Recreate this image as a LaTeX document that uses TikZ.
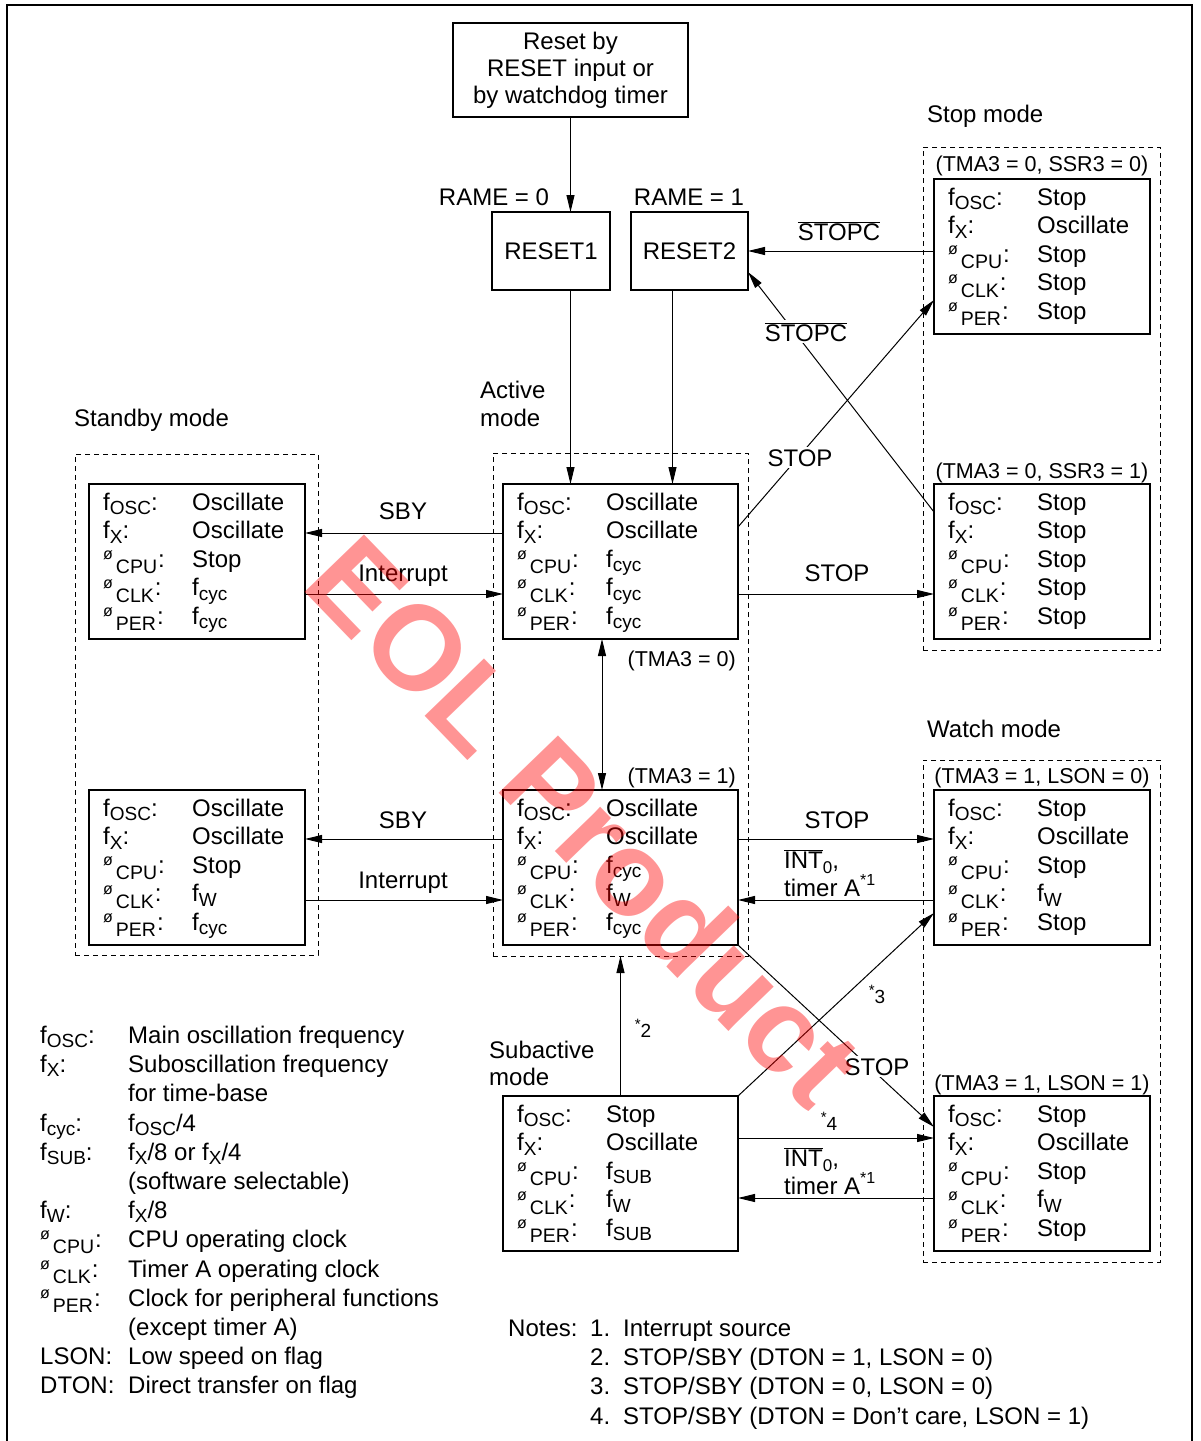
\documentclass[tikz,border=0pt]{standalone}
\usepackage{fontspec}
\setmainfont{Liberation Sans}
\usetikzlibrary{arrows.meta,calc}

% clock and signal notation
\newcommand{\fs}[1]{f\raisebox{-0.2em}{\fontsize{19}{19}\selectfont #1}}
\newcommand{\ph}[1]{\raisebox{0.3em}{\fontsize{16}{16}\selectfont ø}\hspace{3pt}\raisebox{-0.28em}{\fontsize{19.5}{19.5}\selectfont #1}\hspace{1pt}:}
\newcommand{\ovl}[1]{$\overline{\hbox{#1}}$}
\newcommand{\noteref}[1]{\raisebox{0.32em}{\fontsize{15}{15}\selectfont *}{\fontsize{19}{19}\selectfont #1}}
\newcommand{\intz}{\ovl{INT}\raisebox{-0.22em}{\fontsize{17}{17}\selectfont 0},}
\newcommand{\tmrA}{timer A\raisebox{0.45em}{\fontsize{16}{16}\selectfont *1}}

% five clock rows inside a mode box
\newcommand{\modeRows}[6]{%
  \node[cell] (#1a1) at ([xshift=14pt,yshift=-26pt]#1.north west) {\fs{OSC}:};
  \node[cell] (#1b1) at ([xshift=103pt,yshift=-26pt]#1.north west) {#2};
  \node[cell] (#1a2) at ([xshift=14pt,yshift=-54.5pt]#1.north west) {\fs{X}:};
  \node[cell] (#1b2) at ([xshift=103pt,yshift=-54.5pt]#1.north west) {#3};
  \node[cell] (#1a3) at ([xshift=14pt,yshift=-83pt]#1.north west) {\ph{CPU}};
  \node[cell] (#1b3) at ([xshift=103pt,yshift=-83pt]#1.north west) {#4};
  \node[cell] (#1a4) at ([xshift=14pt,yshift=-111.5pt]#1.north west) {\ph{CLK}};
  \node[cell] (#1b4) at ([xshift=103pt,yshift=-111.5pt]#1.north west) {#5};
  \node[cell] (#1a5) at ([xshift=14pt,yshift=-140pt]#1.north west) {\ph{PER}};
  \node[cell] (#1b5) at ([xshift=103pt,yshift=-140pt]#1.north west) {#6};
}

\tikzset{
  txt/.style={font=\fontsize{24}{27}\selectfont},
  mbox/.style={draw, line width=1.4pt, anchor=north west, inner sep=0pt, outer sep=0pt, txt},
  dbox/.style={draw, line width=0.9pt, dash pattern=on 5pt off 4pt, anchor=north west, inner sep=0pt, outer sep=0pt},
  cell/.style={anchor=base west, inner sep=0pt, txt},
  lbl/.style={inner sep=0pt, txt},
  cond/.style={inner sep=0pt, font=\fontsize{21.5}{26}\selectfont},
  wlbl/.style={inner sep=2pt, fill=white, txt},
  arr/.style={line width=1pt, -{Triangle[length=17pt,width=8pt]}},
  darr/.style={line width=1pt, {Triangle[length=17pt,width=8pt]}-{Triangle[length=17pt,width=8pt]}},
  wm/.style={inner sep=0pt, text=red, text opacity=0.42, font=\fontsize{120}{120}\selectfont\bfseries},
}

\begin{document}
\begin{tikzpicture}[x=1pt,y=-1pt]
\useasboundingbox (0,0) rectangle (1200,1441);
\fill[white] (0,0) rectangle (1200,1441);

% outer frame
\draw[line width=1.5pt] (7,1441) -- (7,5) -- (1192,5) -- (1192,1441);

% mode groups
\node[dbox, minimum width=243pt, minimum height=501pt] (sbd) at (75,454) {};
\node[dbox, minimum width=255pt, minimum height=503pt] (actd) at (493,453) {};
\node[dbox, minimum width=237pt, minimum height=503pt] (std) at (923,147) {};
\node[dbox, minimum width=237pt, minimum height=502pt] (wd) at (923,760) {};

% reset boxes
\node[mbox, minimum width=235pt, minimum height=94pt, align=center] (reset) at (453,23) {Reset by\\RESET input or\\by watchdog timer};
\node[mbox, minimum width=118pt, minimum height=78pt] (r1) at (492,212) {RESET1};
\node[mbox, minimum width=117pt, minimum height=78pt] (r2) at (631,212) {RESET2};

% mode boxes
\node[mbox, minimum width=235pt, minimum height=155pt] (act0) at (503,484) {};
\node[mbox, minimum width=235pt, minimum height=155pt] (act1) at (503,790) {};
\node[mbox, minimum width=235pt, minimum height=155pt] (sub) at (503,1096) {};
\node[mbox, minimum width=216pt, minimum height=155pt] (sb0) at (89,484) {};
\node[mbox, minimum width=216pt, minimum height=155pt] (sb1) at (89,790) {};
\node[mbox, minimum width=216pt, minimum height=155pt] (st0) at (934,179) {};
\node[mbox, minimum width=216pt, minimum height=155pt] (st1) at (934,484) {};
\node[mbox, minimum width=216pt, minimum height=155pt] (w0) at (934,790) {};
\node[mbox, minimum width=216pt, minimum height=155pt] (w1) at (934,1096) {};

\modeRows{act0}{Oscillate}{Oscillate}{\fs{cyc}}{\fs{cyc}}{\fs{cyc}}
\modeRows{act1}{Oscillate}{Oscillate}{\fs{cyc}}{\fs{W}}{\fs{cyc}}
\modeRows{sub}{Stop}{Oscillate}{\fs{SUB}}{\fs{W}}{\fs{SUB}}
\modeRows{sb0}{Oscillate}{Oscillate}{Stop}{\fs{cyc}}{\fs{cyc}}
\modeRows{sb1}{Oscillate}{Oscillate}{Stop}{\fs{W}}{\fs{cyc}}
\modeRows{st0}{Stop}{Oscillate}{Stop}{Stop}{Stop}
\modeRows{st1}{Stop}{Stop}{Stop}{Stop}{Stop}
\modeRows{w0}{Stop}{Oscillate}{Stop}{\fs{W}}{Stop}
\modeRows{w1}{Stop}{Oscillate}{Stop}{\fs{W}}{Stop}

% group titles and conditions
\node[lbl, anchor=base west] (tstop) at (927,122) {Stop mode};
\node[lbl, anchor=base west] (twatch) at (927,737) {Watch mode};
\node[lbl, anchor=base west] (tsby) at (74,426) {Standby mode};
\node[lbl, anchor=base west] (tact1) at (480,398) {Active};
\node[lbl, anchor=base west] (tact2) at (480,426) {mode};
\node[lbl, anchor=base west] (tsub1) at (489,1058) {Subactive};
\node[lbl, anchor=base west] (tsub2) at (489,1085) {mode};
\node[lbl, anchor=base] (rame0) at (494,205) {RAME = 0};
\node[lbl, anchor=base] (rame1) at (689,205) {RAME = 1};
\node[cond, anchor=base] (cst0) at (1042,171) {(TMA3 = 0, SSR3 = 0)};
\node[cond, anchor=base] (cst1) at (1042,478) {(TMA3 = 0, SSR3 = 1)};
\node[cond, anchor=base] (cw0) at (1042,783) {(TMA3 = 1, LSON = 0)};
\node[cond, anchor=base] (cw1) at (1042,1090) {(TMA3 = 1, LSON = 1)};
\node[cond, anchor=base east] (cact0) at (736,666) {(TMA3 = 0)};
\node[cond, anchor=base east] (cact1) at (736,783) {(TMA3 = 1)};

% transitions
\draw[arr] (reset.south) -- (reset.south |- r1.north);
\draw[arr] (r1.south -| reset.south) -- (act0.north -| reset.south);
\draw[arr] ([xshift=-17pt]r2.south) -- ([xshift=-17pt]r2.south |- act0.north);
\draw[arr] (r2.east -| st0.west) -- (r2.east);
\draw[arr] ([yshift=-28pt]st1.north west) -- ([yshift=18pt]r2.south east);
\draw[arr] ([yshift=-43pt]act0.north east) -- ([yshift=34pt]st0.south west);
\draw[arr] ([yshift=-110pt]act0.north east) -- ([yshift=-110pt]st1.north west);
\draw[arr] ([yshift=-49pt]act0.north west) -- ([yshift=-49pt]sb0.north east);
\draw[arr] ([yshift=-110pt]sb0.north east) -- ([yshift=-110pt]act0.north west);
\draw[arr] ([yshift=-49pt]act1.north west) -- ([yshift=-49pt]sb1.north east);
\draw[arr] ([yshift=-110pt]sb1.north east) -- ([yshift=-110pt]act1.north west);
\draw[arr] ([yshift=-49pt]act1.north east) -- ([yshift=-49pt]w0.north west);
\draw[arr] ([yshift=-110pt]w0.north west) -- ([yshift=-110pt]act1.north east);
\draw[arr] (act1.south east) -- ([yshift=-31pt]w1.north west);
\draw[arr] (sub.north east) -- ([yshift=32pt]w0.south west);
\draw[arr] ([yshift=-42pt]sub.north east) -- ([yshift=-42pt]w1.north west);
\draw[arr] ([yshift=-102pt]w1.north west) -- ([yshift=-102pt]sub.north east);
\draw[arr] (sub.north) -- (sub.north |- actd.south);
\draw[darr] ([xshift=99pt]act0.south west) -- ([xshift=99pt]act1.north west);

% transition labels
\node[lbl, anchor=base] (lstopc1) at (839,240) {\ovl{STOPC}};
\node[wlbl, anchor=base] (lstopc2) at (806,341) {\ovl{STOPC}};
\node[wlbl, anchor=base] (lstop1) at (800,466) {STOP};
\node[lbl, anchor=base] (lsby1) at (403,519) {SBY};
\node[lbl, anchor=base] (lint1) at (403,581) {Interrupt};
\node[lbl, anchor=base] (lstop2) at (837,581) {STOP};
\node[lbl, anchor=base] (lsby2) at (403,828) {SBY};
\node[lbl, anchor=base] (lint2) at (403,888) {Interrupt};
\node[lbl, anchor=base] (lstop3) at (837,828) {STOP};
\node[lbl, anchor=base west] (lint3) at (784,868) {\intz};
\node[lbl, anchor=base west] (ltmr3) at (784,896) {\tmrA};
\node[lbl, anchor=base] (ln3) at (877,1003) {\noteref{3}};
\node[lbl, anchor=base] (ln2) at (643,1037) {\noteref{2}};
\node[wlbl, anchor=base] (lstop4) at (877,1075) {STOP};
\node[lbl, anchor=base] (ln4) at (829,1130) {\noteref{4}};
\node[lbl, anchor=base west] (lint4) at (784,1166) {\intz};
\node[lbl, anchor=base west] (ltmr4) at (784,1194) {\tmrA};

% symbol legend
\node[lbl, anchor=base west] (ga1) at (40,1043) {\fs{OSC}:};
\node[lbl, anchor=base west] (gb1) at (128,1043) {Main oscillation frequency};
\node[lbl, anchor=base west] (ga2) at (40,1072) {\fs{X}:};
\node[lbl, anchor=base west] (gb2) at (128,1072) {Suboscillation frequency};
\node[lbl, anchor=base west] (gb3) at (128,1101) {for time-base};
\node[lbl, anchor=base west] (ga4) at (40,1131) {\fs{cyc}:};
\node[lbl, anchor=base west] (gb4) at (128,1131) {\fs{OSC}/4};
\node[lbl, anchor=base west] (ga5) at (40,1160) {\fs{SUB}:};
\node[lbl, anchor=base west] (gb5) at (128,1160) {\fs{X}/8 or \fs{X}/4};
\node[lbl, anchor=base west] (gb6) at (128,1189) {(software selectable)};
\node[lbl, anchor=base west] (ga7) at (40,1218) {\fs{W}:};
\node[lbl, anchor=base west] (gb7) at (128,1218) {\fs{X}/8};
\node[lbl, anchor=base west] (ga8) at (40,1247) {\ph{CPU}};
\node[lbl, anchor=base west] (gb8) at (128,1247) {CPU operating clock};
\node[lbl, anchor=base west] (ga9) at (40,1277) {\ph{CLK}};
\node[lbl, anchor=base west] (gb9) at (128,1277) {Timer A operating clock};
\node[lbl, anchor=base west] (ga10) at (40,1306) {\ph{PER}};
\node[lbl, anchor=base west] (gb10) at (128,1306) {Clock for peripheral functions};
\node[lbl, anchor=base west] (gb11) at (128,1335) {(except timer A)};
\node[lbl, anchor=base west] (ga12) at (40,1364) {LSON:};
\node[lbl, anchor=base west] (gb12) at (128,1364) {Low speed on flag};
\node[lbl, anchor=base west] (ga13) at (40,1393) {DTON:};
\node[lbl, anchor=base west] (gb13) at (128,1393) {Direct transfer on flag};

% notes
\node[lbl, anchor=base west] (notes) at (508,1336) {Notes:};
\node[lbl, anchor=base west] (nn1) at (590,1336) {1.};
\node[lbl, anchor=base west] (nt1) at (623,1336) {Interrupt source};
\node[lbl, anchor=base west] (nn2) at (590,1365) {2.};
\node[lbl, anchor=base west] (nt2) at (623,1365) {STOP/SBY (DTON = 1, LSON = 0)};
\node[lbl, anchor=base west] (nn3) at (590,1394) {3.};
\node[lbl, anchor=base west] (nt3) at (623,1394) {STOP/SBY (DTON = 0, LSON = 0)};
\node[lbl, anchor=base west] (nn4) at (590,1424) {4.};
\node[lbl, anchor=base west] (nt4) at (623,1424) {STOP/SBY (DTON = Don’t care, LSON = 1)};

% end-of-life stamp
\node[wm, rotate=-46] (eol) at (585,820) {EOL Product};
\end{tikzpicture}
\end{document}
